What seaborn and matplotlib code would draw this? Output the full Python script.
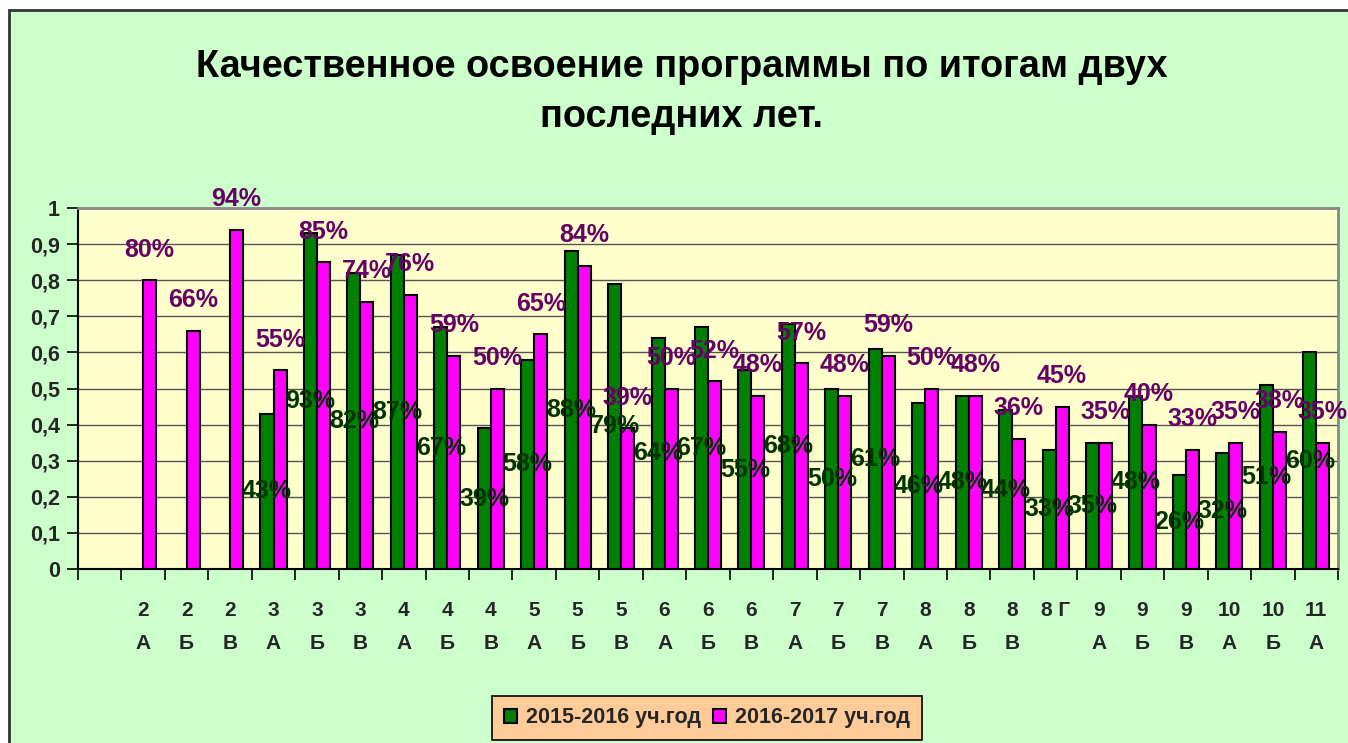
import matplotlib

matplotlib.use("Agg")
import matplotlib.pyplot as plt
import matplotlib.patches as mpatches
import matplotlib.ticker as mticker
import numpy as np
import pandas as pd
import seaborn as sns

# ---------------------------------------------------------------------------
# Data
# ---------------------------------------------------------------------------
classes = [
    " ", "2\nА", "2\nБ", "2\nВ", "3\nА", "3\nБ", "3\nВ", "4\nА", "4\nБ", "4\nВ",
    "5\nА", "5\nБ", "5\nВ", "6\nА", "6\nБ", "6\nВ", "7\nА", "7\nБ", "7\nВ",
    "8\nА", "8\nБ", "8\nВ", "8 Г", "9\nА", "9\nБ", "9\nВ", "10\nА", "10\nБ",
    "11\nА",
]
year_2015 = [
    np.nan, np.nan, np.nan, np.nan, 0.43, 0.93, 0.82, 0.87, 0.67, 0.39,
    0.58, 0.88, 0.79, 0.64, 0.67, 0.55, 0.68, 0.50, 0.61,
    0.46, 0.48, 0.44, 0.33, 0.35, 0.48, 0.26, 0.32, 0.51, 0.60,
]
year_2016 = [
    np.nan, 0.80, 0.66, 0.94, 0.55, 0.85, 0.74, 0.76, 0.59, 0.50,
    0.65, 0.84, 0.39, 0.50, 0.52, 0.48, 0.57, 0.48, 0.59,
    0.50, 0.48, 0.36, 0.45, 0.35, 0.40, 0.33, 0.35, 0.38, 0.35,
]
series_names = ["2015-2016 уч.год", "2016-2017 уч.год"]
y_ticks = [0, 0.1, 0.2, 0.3, 0.4, 0.5, 0.6, 0.7, 0.8, 0.9, 1.0]
title = "Качественное освоение программы по итогам двух\nпоследних лет."

# ---------------------------------------------------------------------------
# Styling
# ---------------------------------------------------------------------------
sns.set_style("white")
plt.rcParams["font.family"] = ["Liberation Sans", "DejaVu Sans"]
plt.rcParams["font.weight"] = "bold"

bar_colors = {series_names[0]: "#008000", series_names[1]: "#FF00FF"}
label_colors = {series_names[0]: "#003300", series_names[1]: "#660066"}

df = pd.DataFrame(
    {
        "class": classes * 2,
        "series": [series_names[0]] * len(classes) + [series_names[1]] * len(classes),
        "value": year_2015 + year_2016,
    }
)

W, H = 1348, 743
fig = plt.figure(figsize=(W / 100, H / 100), dpi=100, facecolor="white")

# chart area background with its border (top/left visible)
fig.add_artist(
    mpatches.Rectangle(
        (9 / W, -0.1), 1.2, (H - 10) / H + 0.1,
        transform=fig.transFigure, facecolor="#CCFFCC",
        edgecolor="#333333", linewidth=2, zorder=-10,
    )
)

ax = fig.add_axes([78 / W, (H - 569) / H, 1260 / W, 361 / H])
ax.set_facecolor("#FFFFCC")

sns.barplot(
    data=df, x="class", y="value", hue="series",
    order=classes, hue_order=series_names, palette=bar_colors,
    width=0.6, errorbar=None, edgecolor="black", linewidth=1.5,
    saturation=1, ax=ax,
)

# data labels
for container, name in zip(ax.containers, series_names):
    for bar in container:
        h = bar.get_height()
        if np.isnan(h) or h == 0:
            continue
        xc = bar.get_x() + bar.get_width() / 2
        if name == series_names[0]:
            ax.text(xc, h / 2, f"{h:.0%}", ha="center", va="center",
                    fontsize=18, fontweight="bold", color=label_colors[name],
                    zorder=5)
        else:
            ax.annotate(f"{h:.0%}", (xc, h), xytext=(0, 22),
                        textcoords="offset points", ha="center", va="center",
                        fontsize=18, fontweight="bold",
                        color=label_colors[name], zorder=5,
                        annotation_clip=False)

ax.set_ylim(0, 1)
ax.set_yticks(y_ticks)
ax.yaxis.set_major_formatter(
    mticker.FuncFormatter(lambda v, _: f"{v:.1f}".replace(".", ",").replace(",0", "")
                          if v not in (0, 1) else f"{int(v)}")
)
ax.yaxis.grid(True, color="#555555", linewidth=1)
ax.set_axisbelow(True)

ax.set_xticks(np.arange(len(classes) + 1) - 0.5, minor=True)
ax.set_xticks(np.arange(len(classes)))
ax.set_xticklabels(classes, linespacing=1.94)
ax.tick_params(axis="x", which="major", length=0, pad=23, labelsize=15)
ax.tick_params(axis="x", which="minor", length=8, width=1.2, color="black",
               direction="out", bottom=True)
ax.tick_params(axis="y", length=8, width=1.2, color="black", direction="out",
               left=True, pad=5, labelsize=15.5)
for lbl in ax.get_xticklabels() + ax.get_yticklabels():
    lbl.set_fontweight("bold")

ax.set_xlabel("")
ax.set_ylabel("")
for side in ("left", "bottom"):
    ax.spines[side].set_color("black")
    ax.spines[side].set_linewidth(1.5)
for side in ("top", "right"):
    ax.spines[side].set_color("#888888")
    ax.spines[side].set_linewidth(2)

fig.text(682 / W, 1 - 92 / H, title, ha="center", va="center",
         fontsize=27.3, fontweight="bold", linespacing=1.53, color="black")

handles, labels = ax.get_legend_handles_labels()
ax.legend(
    handles, labels, ncol=2, loc="center",
    bbox_to_anchor=(707 / W, 1 - 718 / H), bbox_transform=fig.transFigure,
    facecolor="#FFCC99", edgecolor="black", fancybox=False, framealpha=1,
    handlelength=0.6, handleheight=0.6, handletextpad=0.4, columnspacing=0.6,
    borderpad=0.55, prop={"size": 15.5, "weight": "bold"},
)
ax.get_legend().get_frame().set_linewidth(1.2)

fig.savefig("out.png", dpi=100, facecolor=fig.get_facecolor())
